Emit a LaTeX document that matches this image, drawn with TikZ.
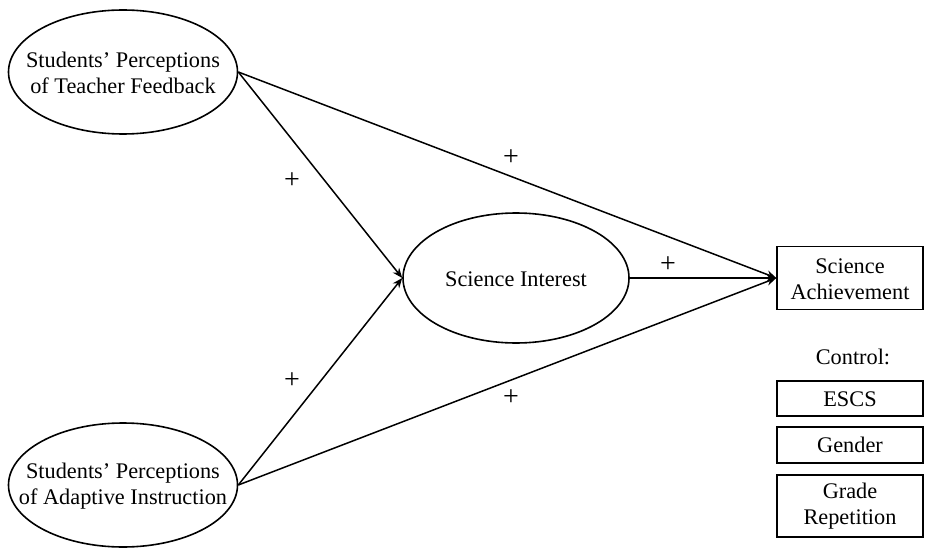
\documentclass[tikz,border=0pt]{standalone}
\usepackage{fontspec}
\setmainfont{Liberation Serif}
\usetikzlibrary{shapes.geometric,arrows.meta}
\begin{document}
\begin{tikzpicture}[x=1pt,y=-1pt,
  lat/.style={draw,line width=1.6pt,ellipse,inner sep=0pt},
  obs/.style={draw,line width=1.4pt,rectangle,inner sep=0pt,minimum width=146pt},
  txt/.style={font=\fontsize{22.3}{26}\selectfont,align=center,inner sep=0pt},
  pl/.style={font=\fontsize{28}{30}\selectfont,inner sep=0pt},
  path/.style={line width=1.5pt,-{Stealth[length=10pt,width=8pt]}}]
\useasboundingbox (0,0) rectangle (925,548);
\node[lat,minimum width=229pt,minimum height=124pt] (tf) at (123,72) {};
\node[txt] (tft) at (123,73) {Students’ Perceptions\\of Teacher Feedback};
\node[lat,minimum width=229pt,minimum height=124pt] (ai) at (123,485) {};
\node[txt] (ait) at (123,486) {Students’ Perceptions\\of Adaptive Instruction};
\node[lat,minimum width=226pt,minimum height=130pt] (si) at (516,278) {};
\node[txt] (sit) at (516,279) {Science Interest};
\node[obs,minimum height=63pt] (sa) at (850,278) {};
\node[txt] (sat) at (850,279) {Science\\Achievement};
\node[txt] (ctl) at (853,357) {Control:};
\node[obs,minimum height=35pt] (escs) at (850,398.5) {};
\node[txt] (escst) at (850,399) {ESCS};
\node[obs,minimum height=36pt] (gen) at (850,445) {};
\node[txt] (gent) at (850,445) {Gender};
\node[obs,minimum height=62pt] (gr) at (850,506) {};
\node[txt] (grt) at (850,506) {Grade\\Repetition};
\draw[path] (tf.east) -- (si.west);
\draw[path] (tf.east) -- (sa.west);
\draw[path] (ai.east) -- (si.west);
\draw[path] (ai.east) -- (sa.west);
\draw[path] (si.east) -- (sa.west);
\node[pl] (p1) at (292,181) {+};
\node[pl] (p2) at (511,158) {+};
\node[pl] (p3) at (668,265) {+};
\node[pl] (p4) at (292,381) {+};
\node[pl] (p5) at (511,398) {+};
\end{tikzpicture}
\end{document}
